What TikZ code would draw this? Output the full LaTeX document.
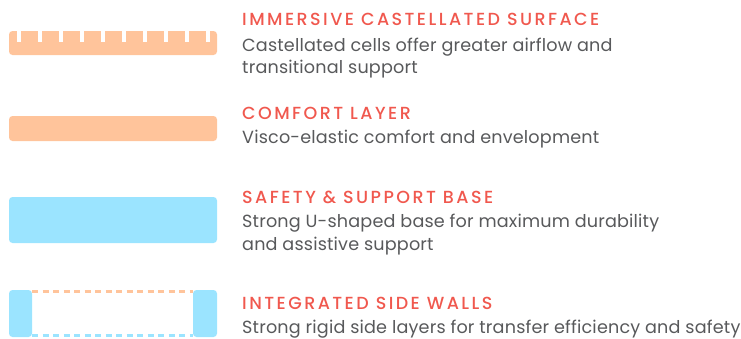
\documentclass[tikz,border=0pt]{standalone}
\usepackage{fontspec}
\setmainfont{Poppins}
\IfFontExistsTF{Poppins Medium}
  {\newfontfamily\titlefont[LetterSpace=14]{Poppins Medium}}
  {\newfontfamily\titlefont[LetterSpace=15]{Poppins}}
\newfontfamily\bodyfont[LetterSpace=1]{Poppins}
\definecolor{titlered}{RGB}{240,88,78}
\definecolor{bodygray}{RGB}{88,89,91}
\definecolor{peach}{RGB}{255,196,155}
\definecolor{skyblue}{RGB}{155,228,255}
\tikzset{
  ttl/.style={anchor=base west, inner sep=0pt, text=titlered, font=\titlefont\fontsize{17.5}{20}\selectfont},
  bdy/.style={anchor=base west, inner sep=0pt, text=bodygray, font=\bodyfont\fontsize{17.6}{20}\selectfont},
  layer/.style={rounded corners=3.5pt},
}
\begin{document}
\begin{tikzpicture}[x=1pt,y=-1pt]
\useasboundingbox (0,0) rectangle (741,338);
% castellated surface
\fill[peach,layer] (9,31) rectangle (217,55);
\foreach \nx in {19,40,61,82,103,124,145,166,187,208}
  \fill[white] (\nx-1.7,30) rectangle (\nx+1.7,42);
% comfort layer
\fill[peach,layer] (9,116) rectangle (217,141);
% safety base
\fill[skyblue,layer] (9,197) rectangle (217,243);
% side walls
\fill[skyblue,layer] (9,290) rectangle (32,337);
\fill[skyblue,layer] (193,290) rectangle (217,337);
\coordinate (tl) at (32,291.5);
\coordinate (tr) at (193,291.5);
\coordinate (bl) at (32,335.5);
\coordinate (br) at (193,335.5);
\draw[peach,line width=2.2pt,dash pattern=on 6pt off 4.5pt] (tl) -- (tr);
\draw[skyblue,line width=2.2pt,dash pattern=on 6pt off 4.5pt] (bl) -- (br);
% texts
\node[ttl] (t1) at (242,25) {IMMERSIVE CASTELLATED SURFACE};
\node[bdy] (b1a) at (242,51) {Castellated cells offer greater airflow and};
\node[bdy] (b1b) at (242,73) {transitional support};
\node[ttl] (t2) at (242,119) {COMFORT LAYER};
\node[bdy] (b2) at (242,143) {Visco-elastic comfort and envelopment};
\node[ttl] (t3) at (242,203) {SAFETY \& SUPPORT BASE};
\node[bdy] (b3a) at (242,227) {Strong U-shaped base for maximum durability};
\node[bdy] (b3b) at (242,250) {and assistive support};
\node[ttl] (t4) at (242,309) {INTEGRATED SIDE WALLS};
\node[bdy] (b4) at (242,333) {Strong rigid side layers for transfer efficiency and safety};
\end{tikzpicture}
\end{document}
